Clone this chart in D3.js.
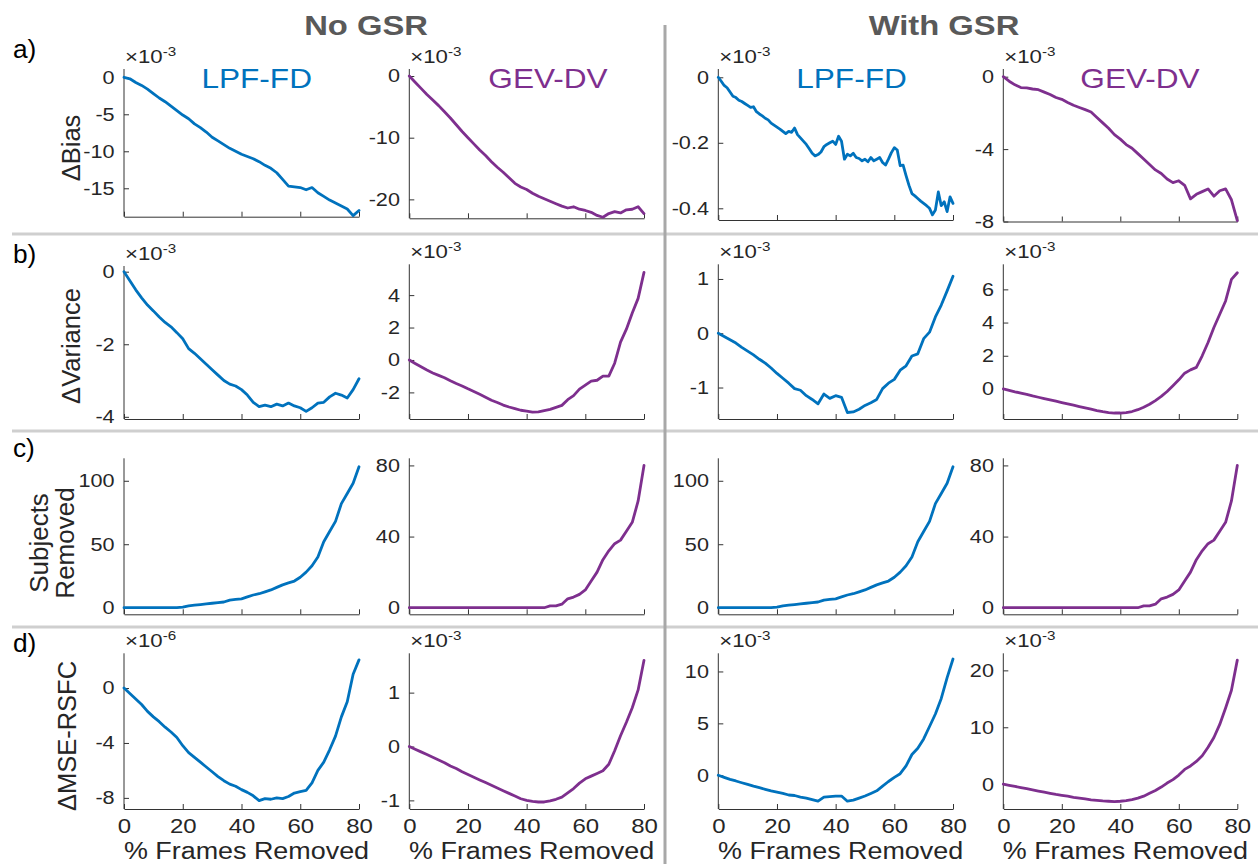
<!DOCTYPE html>
<html><head><meta charset="utf-8">
<script src="https://cdn.jsdelivr.net/npm/d3@7"></script>
<style>
body{margin:0;background:#fff}
svg{display:block}
text{font-family:Arial,"Liberation Sans",Helvetica,sans-serif}
</style>
</head><body>
<svg id="c" width="1258" height="864"></svg>
<script>
// ---------------- DATA ----------------
const groups = ["No GSR", "With GSR"];
const methods = ["LPF-FD", "GEV-DV", "LPF-FD", "GEV-DV"];
const rowLetters = ["a)", "b)", "c)", "d)"];
const metricLabels = [["ΔBias"], ["ΔVariance"], ["Subjects", "Removed"], ["ΔMSE-RSFC"]];
const xLabel = "% Frames Removed";
const xTicks = [0, 20, 40, 60, 80];

const frames2 = [0,2,4,6,8,10,12,14,16,18,20,22,24,26,28,30,32,34,36,38,40,42,44,46,48,50,52,54,56,58,60,62,64,66,68,70,72,74,76,78,80];
const frames1 = [0,1,2,3,4,5,6,7,8,9,10,11,12,13,14,15,16,17,18,19,20,21,22,23,24,25,26,27,28,29,30,31,32,33,34,35,36,37,38,39,40,41,42,43,44,45,46,47,48,49,50,51,52,53,54,55,56,57,58,59,60,61,62,63,64,65,66,67,68,69,70,71,72,73,74,75,76,77,78,79,80];

// a) Delta Bias
const biasNoGsrLpf = [0,-0.2,-0.7,-1.1,-1.6,-2.2,-2.8,-3.3,-3.9,-4.5,
  -5.1,-5.6,-6.3,-6.8,-7.4,-8.1,-8.6,-9.1,-9.6,-10.0,
  -10.4,-10.7,-11.0,-11.4,-11.9,-12.3,-12.9,-13.8,-14.7,-14.8,
  -14.9,-15.2,-14.9,-15.6,-16.1,-16.6,-17.0,-17.4,-17.8,-18.7,-18.0];
const biasNoGsrGev = [0,-1.0,-2.0,-3.0,-3.9,-4.8,-5.8,-6.8,-7.9,-9.0,
  -10.0,-11.0,-12.0,-12.9,-13.9,-14.8,-15.6,-16.5,-17.4,-18.0,
  -18.4,-19.0,-19.5,-19.9,-20.3,-20.7,-21.1,-21.4,-21.2,-21.6,
  -21.8,-22.1,-22.6,-22.9,-22.3,-22.0,-22.2,-21.7,-21.6,-21.2,-22.3];
const biasGsrLpf = [0,-0.012,-0.025,-0.032,-0.045,-0.058,-0.062,-0.070,-0.074,-0.080,
  -0.086,-0.092,-0.090,-0.105,-0.112,-0.118,-0.125,-0.130,-0.140,-0.146,
  -0.152,-0.158,-0.165,-0.172,-0.165,-0.168,-0.155,-0.175,-0.185,-0.195,
  -0.205,-0.218,-0.232,-0.240,-0.236,-0.228,-0.212,-0.205,-0.200,-0.195,
  -0.205,-0.180,-0.195,-0.250,-0.235,-0.240,-0.232,-0.245,-0.248,-0.255,
  -0.250,-0.258,-0.245,-0.255,-0.250,-0.245,-0.260,-0.268,-0.250,-0.230,
  -0.215,-0.222,-0.270,-0.268,-0.300,-0.330,-0.355,-0.362,-0.370,-0.378,
  -0.385,-0.392,-0.400,-0.420,-0.405,-0.350,-0.392,-0.380,-0.410,-0.365,-0.385];
const biasGsrGev = [0,-0.25,-0.45,-0.6,-0.62,-0.68,-0.72,-0.85,-0.98,-1.15,
  -1.25,-1.42,-1.58,-1.70,-1.82,-1.95,-2.25,-2.55,-2.85,-3.2,
  -3.45,-3.75,-3.95,-4.25,-4.55,-4.85,-5.15,-5.35,-5.65,-5.85,
  -5.75,-6.0,-6.75,-6.5,-6.35,-6.2,-6.6,-6.3,-6.2,-6.8,-7.95];

// b) Delta Variance
const varNoGsrLpf = [0,-0.25,-0.5,-0.72,-0.92,-1.08,-1.25,-1.4,-1.52,-1.68,
  -1.85,-2.12,-2.25,-2.4,-2.55,-2.7,-2.85,-3.0,-3.1,-3.15,
  -3.25,-3.4,-3.6,-3.72,-3.68,-3.72,-3.65,-3.7,-3.62,-3.7,
  -3.75,-3.85,-3.75,-3.62,-3.6,-3.45,-3.35,-3.4,-3.48,-3.25,-2.95];
const varNoGsrGev = [0,-0.22,-0.42,-0.62,-0.8,-0.95,-1.1,-1.28,-1.45,-1.6,
  -1.78,-1.95,-2.12,-2.3,-2.48,-2.62,-2.78,-2.9,-3.0,-3.1,
  -3.15,-3.22,-3.2,-3.12,-3.05,-2.92,-2.8,-2.45,-2.2,-1.8,
  -1.55,-1.3,-1.25,-1.0,-1.0,-0.2,1.1,1.9,2.9,3.8,5.4];
const varGsrLpf = [0,-0.06,-0.12,-0.18,-0.26,-0.33,-0.40,-0.48,-0.55,-0.64,
  -0.74,-0.83,-0.92,-1.02,-1.05,-1.15,-1.22,-1.3,-1.12,-1.2,
  -1.15,-1.18,-1.46,-1.45,-1.40,-1.33,-1.28,-1.22,-1.02,-0.92,
  -0.85,-0.68,-0.6,-0.42,-0.38,-0.1,0.02,0.3,0.52,0.78,1.05];
const varGsrGev = [0,-0.08,-0.17,-0.25,-0.33,-0.42,-0.5,-0.58,-0.66,-0.74,
  -0.82,-0.9,-0.98,-1.06,-1.14,-1.22,-1.3,-1.37,-1.42,-1.45,
  -1.45,-1.42,-1.36,-1.25,-1.1,-0.92,-0.7,-0.45,-0.15,0.2,
  0.55,0.95,1.15,1.3,2.0,2.8,3.7,4.5,5.3,6.6,7.0];

// c) Subjects removed
const subjectsLpf = [0,0,0,0,0,0,0,0,0,0,
  0.5,1.5,2,2.5,3,3.5,4,4.5,6,6.5,
  7,8.5,10,11,12.5,14,16,18,19.5,21,
  24,28,33,40,52,60,68,82,90,98,111];
const subjectsGev = [0,0,0,0,0,0,0,0,0,0,
  0,0,0,0,0,0,0,0,0,0,
  0,0,0,0,1,1,2,5,6,7.5,
  10,15,20,27,32,36,38,43,48,60,80];

// d) Delta MSE-RSFC
const mseNoGsrLpf = [0,-0.4,-0.8,-1.2,-1.7,-2.1,-2.45,-2.85,-3.2,-3.6,
  -4.2,-4.7,-5.05,-5.4,-5.75,-6.1,-6.45,-6.75,-7.0,-7.15,
  -7.4,-7.6,-7.85,-8.2,-8.05,-8.1,-8.0,-8.05,-7.9,-7.65,
  -7.55,-7.45,-6.9,-6.0,-5.4,-4.5,-3.5,-2.1,-1.0,1.0,2.05];
const mseNoGsrGev = [0,-0.05,-0.1,-0.15,-0.2,-0.25,-0.3,-0.36,-0.41,-0.47,
  -0.52,-0.57,-0.62,-0.67,-0.72,-0.77,-0.82,-0.87,-0.92,-0.97,
  -1.0,-1.02,-1.03,-1.03,-1.01,-0.98,-0.94,-0.86,-0.78,-0.68,
  -0.6,-0.55,-0.5,-0.45,-0.33,-0.08,0.2,0.45,0.72,1.05,1.6];
const mseGsrLpf = [0,-0.2,-0.4,-0.55,-0.72,-0.88,-1.05,-1.2,-1.35,-1.5,
  -1.62,-1.75,-1.9,-1.95,-2.1,-2.2,-2.35,-2.5,-2.1,-2.05,
  -2.0,-2.0,-2.5,-2.4,-2.2,-2.0,-1.75,-1.5,-1.05,-0.6,
  -0.2,0.15,0.9,2.0,2.6,3.5,4.7,5.9,7.4,9.4,11.2];
const mseGsrGev = [0,-0.2,-0.4,-0.6,-0.8,-1.0,-1.2,-1.4,-1.6,-1.8,
  -1.95,-2.1,-2.3,-2.45,-2.6,-2.75,-2.85,-2.95,-3.0,-3.05,
  -3.0,-2.9,-2.7,-2.45,-2.1,-1.6,-1.1,-0.5,0.2,0.8,
  1.6,2.6,3.2,4.0,5.0,6.5,8.2,10.5,13.4,16.5,21.8];

// y tick labels
const ticksA = [[0,-5,-10,-15],[0,-10,-20],[0,-0.2,-0.4],[0,-4,-8]];
const ticksB = [[0,-2,-4],[-2,0,2,4],[-1,0,1],[0,2,4,6]];
const ticksC = [[0,50,100],[0,40,80],[0,50,100],[0,40,80]];
const ticksD = [[0,-4,-8],[-1,0,1],[0,5,10],[0,10,20]];
const exponents = [["-3","-3","-3","-3"],["-3","-3","-3","-3"],[null,null,null,null],["-6","-3","-3","-3"]];

// ---------------- LAYOUT ----------------
const BLUE = "#0072BD", PURPLE = "#7E2F8E";
const colors = [BLUE, PURPLE, BLUE, PURPLE];
const colLeft = [124, 409.3, 718.3, 1003.3];
const colRight = [359, 644, 953, 1237.3];
const SX = 1.17;

const panels = [
  {r:0,c:0,x:frames2,v:biasNoGsrLpf,t:ticksA[0],dom:[-18.84,1.12],top:69,bot:216.7},
  {r:0,c:1,x:frames2,v:biasNoGsrGev,t:ticksA[1],dom:[-23.07,1.14],top:69,bot:218.3},
  {r:0,c:2,x:frames1,v:biasGsrLpf,t:ticksA[2],dom:[-0.4357,0.0253],top:69,bot:220},
  {r:0,c:3,x:frames2,v:biasGsrGev,t:ticksA[3],dom:[-8.0,0.425],top:69,bot:221.5},
  {r:1,c:0,x:frames2,v:varNoGsrLpf,t:ticksB[0],dom:[-4.06,0.157],top:266,bot:419},
  {r:1,c:1,x:frames2,v:varNoGsrGev,t:ticksB[1],dom:[-3.64,5.9],top:264.3,bot:419},
  {r:1,c:2,x:frames2,v:varGsrLpf,t:ticksB[2],dom:[-1.58,1.27],top:264.3,bot:419},
  {r:1,c:3,x:frames2,v:varGsrGev,t:ticksB[3],dom:[-1.81,7.51],top:264.3,bot:419},
  {r:2,c:0,x:frames2,v:subjectsLpf,t:ticksC[0],dom:[-5.2,117.7],top:458.3,bot:614.3},
  {r:2,c:1,x:frames2,v:subjectsGev,t:ticksC[1],dom:[-3.7,84],top:458.3,bot:614.3},
  {r:2,c:2,x:frames2,v:subjectsLpf,t:ticksC[2],dom:[-5.2,117.7],top:458.3,bot:614.3},
  {r:2,c:3,x:frames2,v:subjectsGev,t:ticksC[3],dom:[-3.7,84],top:458.3,bot:614.3},
  {r:3,c:0,x:frames2,v:mseNoGsrLpf,t:ticksD[0],dom:[-8.81,2.53],top:653.3,bot:809},
  {r:3,c:1,x:frames2,v:mseNoGsrGev,t:ticksD[1],dom:[-1.16,1.73],top:653.3,bot:809},
  {r:3,c:2,x:frames2,v:mseGsrLpf,t:ticksD[2],dom:[-3.25,11.75],top:653.3,bot:809},
  {r:3,c:3,x:frames2,v:mseGsrGev,t:ticksD[3],dom:[-4.36,23.0],top:653.3,bot:809}
];

const svg = d3.select("#c");
svg.append("rect").attr("width",1258).attr("height",864).attr("fill","#fff");

function label(x, y, str, o) {
  return svg.append("text")
    .attr("transform", `translate(${x},${y}) scale(${o.sx ?? SX},1)`)
    .attr("text-anchor", o.anchor || "middle")
    .attr("font-size", o.size)
    .attr("font-weight", o.weight || "normal")
    .attr("fill", o.fill || "#262626")
    .text(str);
}

// separators
[234, 431, 627].forEach(y => {
  svg.append("line").attr("x1",12).attr("x2",1258).attr("y1",y).attr("y2",y)
    .attr("stroke","#cfcfcf").attr("stroke-width",3);
});
svg.append("line").attr("x1",665).attr("x2",665).attr("y1",25).attr("y2",864)
  .attr("stroke","#a8a8a8").attr("stroke-width",3);

// group headers
label(366, 35, groups[0], {size:28, weight:"bold", fill:"#595959"});
label(944, 35, groups[1], {size:28, weight:"bold", fill:"#595959"});

// row letters
const letterY = [58, 263, 457, 652];
rowLetters.forEach((l,i) => label(13, letterY[i], l, {size:25, anchor:"start", sx:1.05, fill:"#000"}));

// y-axis labels (rotated)
const ylabY = [148, 346, 543, 736];
metricLabels.forEach((lines,i) => {
  const n = lines.length;
  lines.forEach((s,k) => {
    const bx = n === 1 ? (i===3 ? 76 : 80) : [48, 74][k];
    svg.append("text")
      .attr("transform", `translate(${bx},${ylabY[i]}) rotate(-90)`)
      .attr("text-anchor","middle").attr("font-size", n===1 ? 25.5 : 26)
      .attr("fill","#262626").text(s);
  });
});

// panels
panels.forEach(p => {
  const x = d3.scaleLinear().domain([0,80]).range([colLeft[p.c], colRight[p.c]]);
  const y = d3.scaleLinear().domain(p.dom).range([p.bot, p.top]);
  const g = svg.append("g");

  const yAxis = d3.axisLeft(y).tickValues(p.t).tickSizeInner(-5).tickSizeOuter(0).tickPadding(8)
    .tickFormat(d => String(d));
  const ga = g.append("g").attr("transform", `translate(${colLeft[p.c]},0)`).call(yAxis);
  ga.selectAll("text").attr("font-size", 18.5).attr("fill","#262626")
    .attr("font-family","Arial,'Liberation Sans',sans-serif")
    .attr("transform", `scale(${SX},1)`);

  const xAxis = d3.axisBottom(x).tickValues(xTicks).tickSizeInner(-5).tickSizeOuter(0).tickPadding(9)
    .tickFormat(d => p.r === 3 ? String(d) : "");
  const gx = g.append("g").attr("transform", `translate(0,${p.bot})`).call(xAxis);
  gx.selectAll("text").attr("font-size", 20.5).attr("fill","#262626")
    .attr("font-family","Arial,'Liberation Sans',sans-serif")
    .attr("transform", `scale(${SX},1)`);

  [ga, gx].forEach(a => {
    a.select(".domain").attr("stroke","#333").attr("stroke-width",1);
    a.selectAll(".tick line").attr("stroke","#333").attr("stroke-width",1);
  });
  ga.select(".domain").attr("d", `M0,${p.top}V${p.bot}`);

  // data line
  const line = d3.line().x((d,i) => x(p.x[i])).y(d => y(d));
  g.append("path").datum(p.v).attr("d", line).attr("fill","none")
    .attr("stroke", colors[p.c]).attr("stroke-width", 2.8)
    .attr("stroke-linejoin","round").attr("stroke-linecap","round");

  // exponent
  const e = exponents[p.r][p.c];
  if (e) {
    const t = svg.append("text")
      .attr("transform", `translate(${colLeft[p.c]+1},${p.top-6}) scale(${SX},1)`)
      .attr("font-size", 19).attr("fill","#262626");
    t.append("tspan").text("×10");
    t.append("tspan").attr("font-size", 13).attr("dy", -7).text(e);
  }

  // titles on top row
  if (p.r === 0) {
    const cx = [256.7, 548, 851.5, 1140][p.c];
    label(cx, 88, methods[p.c], {size:27, fill:colors[p.c]});
  }
  // x-label on bottom row
  if (p.r === 3) {
    label((colLeft[p.c]+colRight[p.c])/2 + 5, 859, xLabel, {size:23});
  }
});
</script>
</body></html>
